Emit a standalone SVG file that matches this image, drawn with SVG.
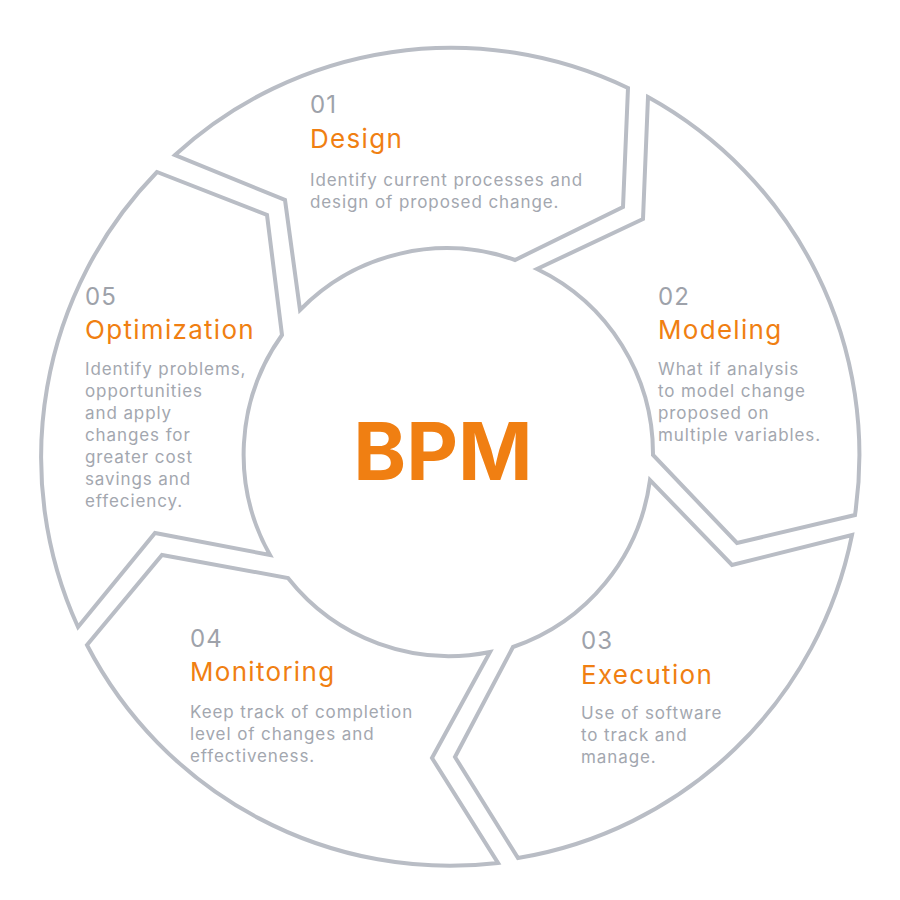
<svg xmlns="http://www.w3.org/2000/svg" width="900" height="900" viewBox="0 0 900 900">
<style>
.seg{fill:#fff;stroke:#b9bdc5;stroke-width:4;stroke-linejoin:miter}
text{font-family:Inter,"Liberation Sans",sans-serif}
.n{fill:#9ea2aa;font-size:24px;letter-spacing:1px}
.t{fill:#f07f12;font-size:26px;letter-spacing:1.3px}
.b{fill:#a3a7af;font-size:17px;letter-spacing:0.9px}
</style>
<rect width="900" height="900" fill="#fff"/>
<g id="design"><path class="seg" d="M175,155 A409,409 0 0 1 628,88 L623,207 L515,260 A205,205 0 0 0 300,310 L285,200 Z"/>
<text class="n" x="310" y="113">01</text><text class="t" x="310" y="148">Design</text>
<text class="b" x="310" y="186">Identify current processes and</text><text class="b" x="310" y="208">design of proposed change.</text></g>
<g id="modeling"><path class="seg" d="M648,97 A409,409 0 0 1 855,515 L737,543 L653,455 A205,205 0 0 0 537,269 L643,219 Z"/>
<text class="n" x="658" y="305">02</text><text class="t" x="658" y="339">Modeling</text>
<text class="b" x="658" y="375">What if analysis</text><text class="b" x="658" y="397">to model change</text><text class="b" x="658" y="419">proposed on</text><text class="b" x="658" y="441">multiple variables.</text></g>
<g id="execution"><path class="seg" d="M852,535 A409,409 0 0 1 518,858 L455,757 L513,647 A205,205 0 0 0 650,480 L732,565 Z"/>
<text class="n" x="581" y="649">03</text><text class="t" x="581" y="684">Execution</text>
<text class="b" x="581" y="719">Use of software</text><text class="b" x="581" y="741">to track and</text><text class="b" x="581" y="763">manage.</text></g>
<g id="monitoring"><path class="seg" d="M498,863 A409,409 0 0 1 87,645 L162,555 L288,578 A205,205 0 0 0 490,652 L432,758 Z"/>
<text class="n" x="190" y="647">04</text><text class="t" x="190" y="681">Monitoring</text>
<text class="b" x="190" y="718">Keep track of completion</text><text class="b" x="190" y="740">level of changes and</text><text class="b" x="190" y="762">effectiveness.</text></g>
<g id="optimization"><path class="seg" d="M78,627 A409,409 0 0 1 157,172 L267,215 L282,335 A205,205 0 0 0 270,555 L155,533 Z"/>
<text class="n" x="85" y="305">05</text><text class="t" x="85" y="339">Optimization</text>
<text class="b" x="85" y="375">Identify problems,</text><text class="b" x="85" y="397">opportunities</text><text class="b" x="85" y="419">and apply</text><text class="b" x="85" y="441">changes for</text><text class="b" x="85" y="463">greater cost</text><text class="b" x="85" y="485">savings and</text><text class="b" x="85" y="507">effeciency.</text></g>
<g id="center"><text x="443" y="480" text-anchor="middle" font-size="80" font-weight="bold" fill="#f07f12">BPM</text></g>
<g id="connectors"></g>
</svg>
